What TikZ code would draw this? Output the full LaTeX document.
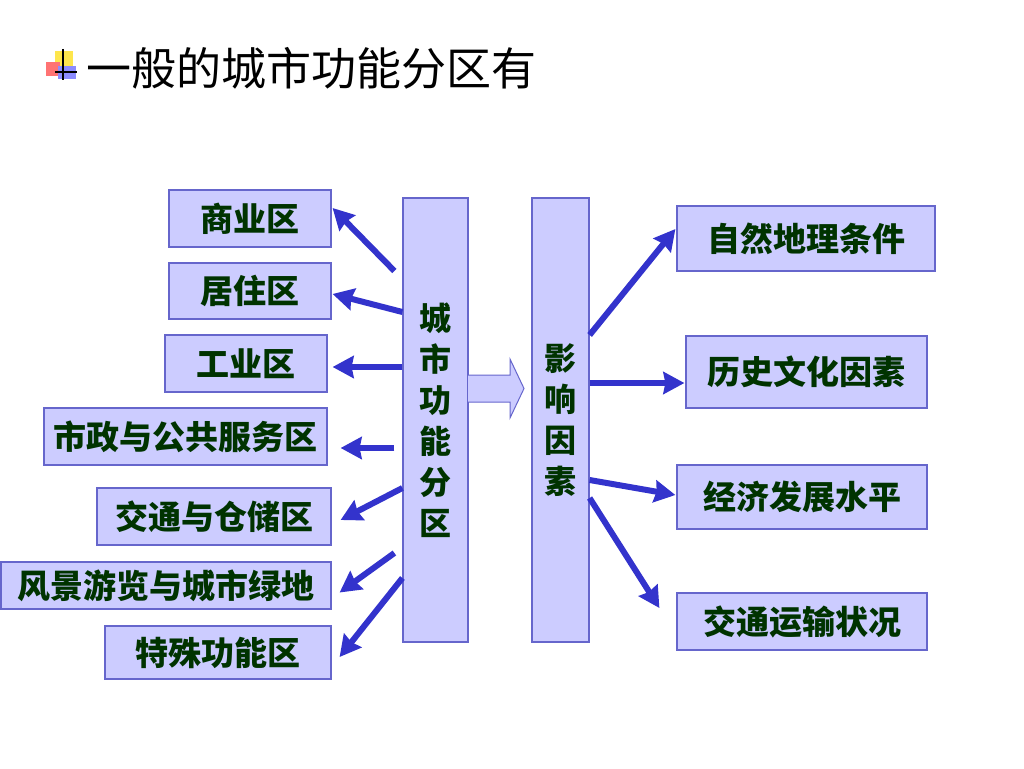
\documentclass[tikz,border=0pt]{standalone}
\usepackage{fontspec}
\newfontfamily\cjk{Noto Sans CJK SC}
\usetikzlibrary{arrows.meta}

\definecolor{boxfill}{HTML}{CCCCFF}
\definecolor{boxline}{HTML}{6666CC}
\definecolor{arrowblue}{HTML}{3333CC}
\definecolor{txtgreen}{HTML}{003300}

\begin{document}
\begin{tikzpicture}[x=1pt, y=-1pt,
    zonebox/.style={draw=boxline, line width=1.2pt, fill=boxfill, text=txtgreen, inner sep=0pt,
      font=\cjk\bfseries\fontsize{33}{36}\selectfont},
    column/.style={zonebox, align=center, font=\cjk\bfseries\fontsize{32}{41}\selectfont},
    arr/.style={draw=arrowblue, line width=6pt, -{Stealth[length=21pt, width=22pt, inset=2pt]}}]
        \useasboundingbox (0,0) rectangle (1024,768);

        % title with bullet
        \fill[yellow!80!orange!70] (55,51) rectangle (73,66);
        \fill[red!55] (46,62) rectangle (60,76);
        \fill[blue!45] (58,66) rectangle (76,79);
        \draw[line width=1.3pt] (63,49) -- (63,80) (55,72) -- (77,72);
        \node[font=\cjk\fontsize{45}{48}\selectfont, inner sep=0pt] (title) at (311.5,68) {一般的城市功能分区有};

        % left column: zones
        \node[zonebox, minimum width=162, minimum height=57] (shang) at (250,218.5) {商业区};
        \node[zonebox, minimum width=162, minimum height=56] (ju) at (250,291) {居住区};
        \node[zonebox, minimum width=162, minimum height=57] (gong) at (246,363.5) {工业区};
        \node[zonebox, minimum width=283, minimum height=57] (shizheng) at (185.5,436.5) {市政与公共服务区};
        \node[zonebox, minimum width=234, minimum height=57] (jiaotong) at (214,516.5) {交通与仓储区};
        \node[zonebox, minimum width=330, minimum height=47] (fengjing) at (166,585.5) {风景游览与城市绿地};
        \node[zonebox, minimum width=226, minimum height=53] (teshu) at (218,652.5) {特殊功能区};

        % middle columns
        \node[column, minimum width=65, minimum height=444] (zone) at (435.5,420) {城\\市\\功\\能\\分\\区};
        \node[column, minimum width=57, minimum height=444] (factor) at (560.5,420) {影\\响\\因\\素};
        \path[fill=boxfill, draw=boxline, line width=1pt] (468,375) -- (510,375) -- (510,359) -- (524,388.5) -- (510,418) -- (510,402) -- (468,402);

        % right column: factors
        \node[zonebox, minimum width=258, minimum height=65] (ziran) at (806,238.5) {自然地理条件};
        \node[zonebox, minimum width=241, minimum height=72] (lishi) at (806.5,372) {历史文化因素};
        \node[zonebox, minimum width=250, minimum height=64] (jingji) at (802,497) {经济发展水平};
        \node[zonebox, minimum width=250, minimum height=57] (yunshu) at (802,621.5) {交通运输状况};

        % arrows to the zones
        \draw[arr] ([xshift=-8pt, yshift=149pt]zone.west) -- ([xshift=1pt, yshift=10.5pt]shang.east);
        \draw[arr] ([yshift=108pt]zone.west) -- ([xshift=1pt, yshift=-3pt]ju.east);
        \draw[arr] ([yshift=53pt]zone.west) -- ([xshift=5pt, yshift=-3.5pt]gong.east);
        \draw[arr] ([xshift=-8pt, yshift=-28pt]zone.west) -- ([xshift=13pt, yshift=-11.5pt]shizheng.east);
        \draw[arr] ([yshift=-68pt]zone.west) -- ([xshift=9pt, yshift=-3.5pt]jiaotong.east);
        \draw[arr] ([xshift=-8pt, yshift=-133pt]zone.west) -- ([xshift=8pt, yshift=-7pt]fengjing.east);
        \draw[arr] ([yshift=-158pt]zone.west) -- ([xshift=8pt, yshift=-4.5pt]teshu.east);

        % arrows to the factors
        \draw[arr] ([yshift=85pt]factor.east) -- ([xshift=-1pt, yshift=9.5pt]ziran.west);
        \draw[arr] ([yshift=37pt]factor.east) -- ([xshift=-1pt, yshift=-11pt]lishi.west);
        \draw[arr] ([yshift=-60pt]factor.east) -- ([xshift=-1pt, yshift=2pt]jingji.west);
        \draw[arr] ([yshift=-78pt]factor.east) -- ([xshift=-17pt, yshift=13.5pt]yunshu.west);
      \end{tikzpicture}
\end{document}
